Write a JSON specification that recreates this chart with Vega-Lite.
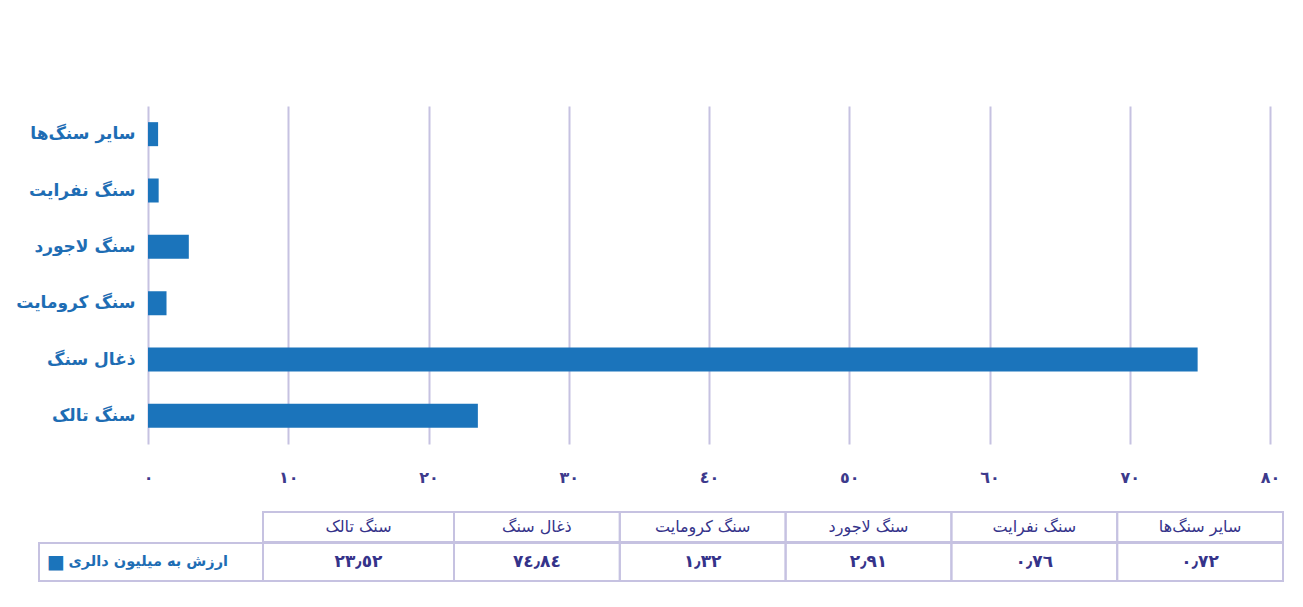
{
  "$schema": "https://vega.github.io/schema/vega-lite/v6.json",
  "background": "white",
  "padding": {"left": 15, "top": 106, "right": 0, "bottom": 0},
  "autosize": {"type": "pad"},
  "datasets": {
    "stones": [
      {"item": "سنگ تالک", "value": 23.52},
      {"item": "ذغال سنگ", "value": 74.84},
      {"item": "سنگ کرومایت", "value": 1.32},
      {"item": "سنگ لاجورد", "value": 2.91},
      {"item": "سنگ نفرایت", "value": 0.76},
      {"item": "سایر سنگ‌ها", "value": 0.72}
    ],
    "series": [{"name": "ارزش به میلیون دالری"}]
  },
  "config": {
    "view": {"stroke": null},
    "font": "DejaVu Sans",
    "locale": {
      "number": {
        "decimal": "٫",
        "thousands": "٬",
        "grouping": [3],
        "currency": ["", ""],
        "numerals": ["٠", "١", "٢", "٣", "٤", "٥", "٦", "٧", "٨", "٩"]
      }
    }
  },
  "bounds": "flush",
  "spacing": 68,
  "vconcat": [
    {
      "width": 1231,
      "height": 338,
      "data": {"name": "stones"},
      "mark": {"type": "bar", "color": "#1b74bb"},
      "encoding": {
        "x": {
          "field": "value",
          "type": "quantitative",
          "scale": {"domain": [-7.772, 80], "nice": false, "zero": false},
          "axis": {
            "values": [0, 10, 20, 30, 40, 50, 60, 70, 80],
            "format": "d",
            "grid": true,
            "gridColor": "#c6c2e1",
            "gridWidth": 2,
            "domain": false,
            "ticks": false,
            "tickSize": 0,
            "labelPadding": 25,
            "labelFlush": false,
            "labelFontSize": 16,
            "labelFontWeight": "bold",
            "labelColor": "#3d3a8c",
            "title": null
          }
        },
        "y": {
          "field": "item",
          "type": "nominal",
          "sort": ["سایر سنگ‌ها", "سنگ نفرایت", "سنگ لاجورد", "سنگ کرومایت", "ذغال سنگ", "سنگ تالک"],
          "scale": {"paddingInner": 0.574, "paddingOuter": 0.287},
          "axis": {
            "offset": -109,
            "domain": false,
            "ticks": false,
            "tickSize": 0,
            "labelPadding": 13,
            "labelFontSize": 17,
            "labelFontWeight": "bold",
            "labelColor": "#1e6db4",
            "title": null
          }
        }
      }
    },
    {
      "spacing": -2,
      "vconcat": [
        {
          "bounds": "flush",
          "spacing": 0,
          "hconcat": [
            {
              "width": 224,
              "height": 30,
              "data": {"values": []},
              "mark": "text",
              "encoding": {}
            },
            {
              "width": 191,
              "height": 30,
              "data": {"name": "stones"},
              "transform": [{"filter": "datum.item === 'سنگ تالک'"}],
              "encoding": {
                "x": {"field": "item", "type": "nominal", "sort": null, "scale": {"paddingInner": 0, "paddingOuter": 0}, "axis": null}
              },
              "layer": [
                {"mark": {"type": "rect", "filled": false, "stroke": "#c6c2e1", "strokeWidth": 2}},
                {"mark": {"type": "text", "fontSize": 16, "color": "#35338a"}, "encoding": {"text": {"field": "item"}}}
              ]
            },
            {
              "width": 829,
              "height": 30,
              "data": {"name": "stones"},
              "transform": [{"filter": "datum.item !== 'سنگ تالک'"}],
              "encoding": {
                "x": {"field": "item", "type": "nominal", "sort": null, "scale": {"paddingInner": 0, "paddingOuter": 0}, "axis": null}
              },
              "layer": [
                {"mark": {"type": "rect", "filled": false, "stroke": "#c6c2e1", "strokeWidth": 2}},
                {"mark": {"type": "text", "fontSize": 16, "color": "#35338a"}, "encoding": {"text": {"field": "item"}}}
              ]
            }
          ]
        },
        {
          "bounds": "flush",
          "spacing": 0,
          "hconcat": [
            {
              "width": 224,
              "height": 38,
              "data": {"name": "series"},
              "encoding": {
                "x": {"field": "name", "type": "nominal", "scale": {"paddingInner": 0, "paddingOuter": 0}, "axis": null}
              },
              "layer": [
                {"mark": {"type": "rect", "filled": false, "stroke": "#c6c2e1", "strokeWidth": 2}},
                {
                  "mark": {"type": "text", "fontSize": 14.5, "fontWeight": "bold", "color": "#1e6db4", "align": "right", "dx": -35},
                  "encoding": {"x": {"field": "name", "type": "nominal", "bandPosition": 1}, "text": {"field": "name"}}
                },
                {
                  "mark": {"type": "text", "fontSize": 19, "color": "#1b74bb", "align": "left", "dx": 8, "text": "■"},
                  "encoding": {"x": {"field": "name", "type": "nominal", "bandPosition": 0}}
                }
              ]
            },
            {
              "width": 191,
              "height": 38,
              "data": {"name": "stones"},
              "transform": [{"filter": "datum.item === 'سنگ تالک'"}],
              "encoding": {
                "x": {"field": "item", "type": "nominal", "sort": null, "scale": {"paddingInner": 0, "paddingOuter": 0}, "axis": null}
              },
              "layer": [
                {"mark": {"type": "rect", "filled": false, "stroke": "#c6c2e1", "strokeWidth": 2}},
                {"mark": {"type": "text", "fontSize": 17, "fontWeight": "bold", "color": "#35338a"}, "encoding": {"text": {"field": "value", "type": "quantitative", "format": ".2f"}}}
              ]
            },
            {
              "width": 829,
              "height": 38,
              "data": {"name": "stones"},
              "transform": [{"filter": "datum.item !== 'سنگ تالک'"}],
              "encoding": {
                "x": {"field": "item", "type": "nominal", "sort": null, "scale": {"paddingInner": 0, "paddingOuter": 0}, "axis": null}
              },
              "layer": [
                {"mark": {"type": "rect", "filled": false, "stroke": "#c6c2e1", "strokeWidth": 2}},
                {"mark": {"type": "text", "fontSize": 17, "fontWeight": "bold", "color": "#35338a"}, "encoding": {"text": {"field": "value", "type": "quantitative", "format": ".2f"}}}
              ]
            }
          ]
        }
      ]
    }
  ]
}
